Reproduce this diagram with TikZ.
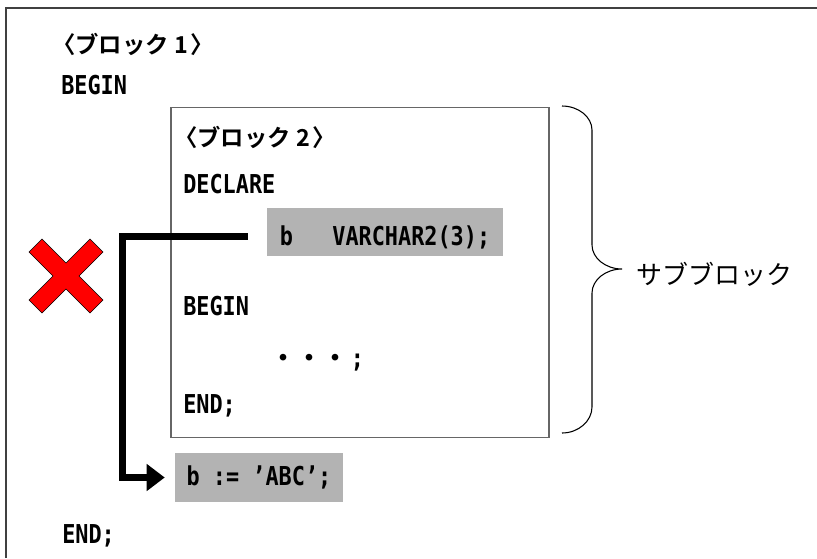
\documentclass[tikz,border=0pt]{standalone}
\usepackage{fontspec}
\usetikzlibrary{arrows.meta,calc}
\newfontfamily\cjk{Noto Sans CJK JP}
\newfontfamily\cjkb{Noto Sans CJK JP Bold}
\newfontfamily\monob[FakeStretch=0.84]{DejaVu Sans Mono Bold}
\definecolor{codegray}{HTML}{B3B3B3}
\definecolor{framegray}{HTML}{404040}
\definecolor{boxgray}{HTML}{666666}
\definecolor{xred}{HTML}{FF0000}
\newcommand\codefont{\monob\fontsize{19.5}{22}\selectfont}
\begin{document}
\begin{tikzpicture}[x=0.75pt,y=-0.75pt,
  txt/.style={inner sep=0pt,anchor=base west},
  code/.style={txt,font=\codefont},
  head/.style={txt,font=\cjkb\fontsize{17.5}{20}\selectfont},
  graybox/.style={fill=codegray,draw=none,inner sep=0pt,font=\codefont,text depth=0pt},
  flow/.style={line width=5.25pt,line join=miter,-{Triangle[length=13.5pt,width=19.5pt]}}]
\useasboundingbox (0,0) rectangle (817,558);
\fill[white] (0,0) rectangle (817,558);
% outer frame (left and top edges visible)
\draw[framegray,line width=1.2pt] (6,558) -- (6,8) -- (817,8);
% inner block
\node[draw=boxgray,line width=0.8pt,minimum width=378*0.75pt,minimum height=330*0.75pt,inner sep=0pt] (inner) at (360,272.5) {};
% texts
\node[head] (t1) at (52,53) {〈ブロック\kern4pt 1\kern2pt〉};
\node[code] (begin1) at (61,94) {BEGIN};
\node[head] (t2) at (174,146) {〈ブロック\kern4pt 2\kern2pt〉};
\node[code] (declare) at (183,193) {DECLARE};
\node[code] (begin2) at (183,315) {BEGIN};
\node[txt,font=\cjkb\fontsize{19.5}{22}\selectfont] (dots) at (270,367) {・・・{\codefont\kern2pt;}};
\node[code] (end2) at (183,413) {END;};
\node[code] (end1) at (62,543) {END;};
% gray code boxes
\node[graybox,minimum width=236*0.75pt,minimum height=48*0.75pt,text height=19.5pt] (decl) at (385,232) {b\ \ \ VARCHAR2(3);};
\node[graybox,minimum width=168*0.75pt,minimum height=49*0.75pt,text height=11.25pt] (assign) at (259,477.5) {b := ’ABC’;};
% connector
\coordinate (start) at ($(decl.west)+(-19,4)$);
\coordinate (corner) at (122,236);
\draw[flow,shorten >=10*0.75pt] (start) -- (start -| corner) |- (assign.west);
% red cross
\draw[fill=xred,draw=black,line width=0.5pt,line join=miter]
  (42,239) -- (66,263) -- (90,239) -- (103,252) -- (79,276) -- (103,300)
  -- (90,313) -- (66,289) -- (42,313) -- (29,300) -- (53,276) -- (29,252) -- cycle;
% brace
\draw[black,line width=0.8pt] (562,106) .. controls (578.5,106) and (592,117) .. (592,130)
  -- (592,245) .. controls (592,258) and (605.5,269) .. (622,269)
  .. controls (605.5,269) and (592,280) .. (592,293)
  -- (592,407) .. controls (592,421) and (578.5,433) .. (562,433);
\node[txt,font=\cjk\fontsize{19.5}{22}\selectfont] (label) at (636,284.5) {サブブロック};
\end{tikzpicture}
\end{document}
